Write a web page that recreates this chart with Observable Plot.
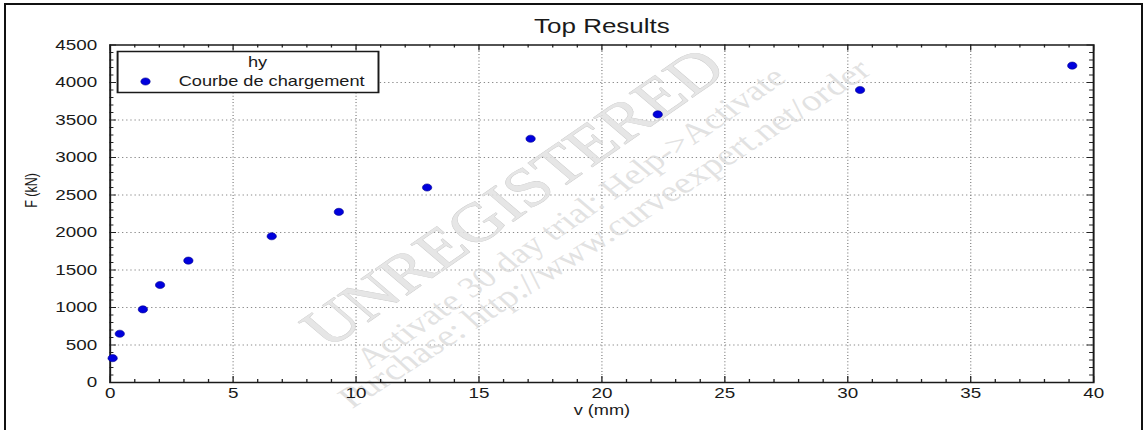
<!DOCTYPE html>
<html>
<head>
<meta charset="utf-8">
<script src="https://cdn.jsdelivr.net/npm/d3@7"></script>
<script src="https://cdn.jsdelivr.net/npm/@observablehq/plot@0.6"></script>
<style>
  html, body { margin: 0; padding: 0; background: #fff; overflow: hidden; }
  #wrap { position: relative; width: 1146px; height: 430px; }
  #border { position: absolute; left: 4px; top: 3px; width: 1135px; height: 500px;
            border-left: 2px solid #111; border-top: 2px solid #111; border-right: 2px solid #111;
            pointer-events: none; }
</style>
</head>
<body>
<div id="wrap"><div id="border"></div></div>
<script>
// ---- data ----
const vValues = [0.1, 0.39, 1.33, 2.03, 3.18, 6.57, 9.30, 12.89, 17.10, 22.27, 30.50, 39.13];
const fValues = [325, 650, 975, 1300, 1625, 1950, 2275, 2600, 3250, 3575, 3900, 4225];
const xTicks = [0, 5, 10, 15, 20, 25, 30, 35, 40];
const yTicks = [0, 500, 1000, 1500, 2000, 2500, 3000, 3500, 4000, 4500];
const xMinor = d3.range(1, 40).filter(d => d % 5 !== 0);
const yMinor = d3.range(100, 4500, 100).filter(d => d % 500 !== 0);
const xGrid = [5, 10, 15, 20, 25, 30, 35];
const yGrid = [500, 1000, 1500, 2000, 2500, 3000, 3500, 4000];
const titleText = ["Top Results"];
const xLabel = ["v (mm)"];
const yLabel = ["F (kN)"];
const legendTitle = ["hy"];
const legendLabel = ["Courbe de chargement"];
const watermarkBig = ["UNREGISTERED"];
const watermarkLine1 = ["Activate 30 day trial: Help->Activate"];
const watermarkLine2 = ["Purchase: http://www.curveexpert.net/order"];

const points = vValues.map((v, i) => ({v, f: fValues[i]}));

// The reference is a horizontally stretched image: draw at a narrower logical
// width and stretch the SVG to the full width.
const W0 = 882, H = 430, WOUT = 1146;
const ML = 84.3, MR = 40.8, MT = 44.5, MB = 48;
const fw = W0 - ML - MR, fh = H - MT - MB;

const blue = "#0000dd";
const sans = "'Liberation Sans', Arial, Helvetica, sans-serif";
const serif = "'Liberation Serif', 'DejaVu Serif', serif";
const wmFill = "#dadada";

const chart = Plot.plot({
  width: W0,
  height: H,
  marginLeft: ML, marginRight: MR, marginTop: MT, marginBottom: MB,
  style: {fontFamily: sans, fontSize: "14.5px", color: "#1a1a1a", background: "white"},
  x: {domain: [0, 40]},
  y: {domain: [0, 4500]},
  marks: [
    // dotted grid
    Plot.ruleX(xGrid, {x: d => d, stroke: "#8a8a8a", strokeWidth: 1, strokeDasharray: "1,2.2"}),
    Plot.ruleY(yGrid, {y: d => d, stroke: "#8a8a8a", strokeWidth: 1, strokeDasharray: "1,2.2"}),
    // watermark
    Plot.text(watermarkBig, {frameAnchor: "middle", dx: -68, dy: -16, rotate: -42,
      fontSize: 55, fontFamily: serif, fill: "#e2e2e2", fillOpacity: 0.85, stroke: "#c8c8c8", strokeWidth: 0.6}),
    Plot.text(watermarkLine1, {frameAnchor: "middle", dx: -24, dy: 4, rotate: -42,
      fontSize: 29, fontFamily: serif, fill: wmFill, fillOpacity: 0.8}),
    Plot.text(watermarkLine2, {frameAnchor: "middle", dx: 2, dy: 20, rotate: -40,
      fontSize: 30, fontFamily: serif, fill: wmFill, fillOpacity: 0.8}),
    // inward ticks: bottom / top
    Plot.tickX(xMinor, {x: d => d, insetTop: fh - 3, stroke: "#222"}),
    Plot.tickX(xTicks, {x: d => d, insetTop: fh - 6, stroke: "#222"}),
    Plot.tickX(xMinor, {x: d => d, insetBottom: fh - 3, stroke: "#222"}),
    Plot.tickX(xTicks, {x: d => d, insetBottom: fh - 6, stroke: "#222"}),
    // inward ticks: left / right
    Plot.tickY(yMinor, {y: d => d, insetRight: fw - 3, stroke: "#222"}),
    Plot.tickY(yTicks, {y: d => d, insetRight: fw - 5, stroke: "#222"}),
    Plot.tickY(yMinor, {y: d => d, insetLeft: fw - 3, stroke: "#222"}),
    Plot.tickY(yTicks, {y: d => d, insetLeft: fw - 5, stroke: "#222"}),
    Plot.frame({stroke: "#1a1a1a", strokeWidth: 1.5}),
    // axes labels
    Plot.axisX({ticks: xTicks, tickSize: 0, tickPadding: 5, tickFormat: d => String(d), label: null}),
    Plot.axisY({ticks: yTicks, tickSize: 0, tickPadding: 10, tickFormat: d => String(d), label: null}),
    Plot.text(xLabel, {frameAnchor: "bottom", dy: 28, lineAnchor: "middle", fontSize: 14}),
    Plot.text(yLabel, {frameAnchor: "left", dx: -60, dy: -6, rotate: -90, lineAnchor: "middle", fontSize: 12.5}),
    Plot.text(titleText, {frameAnchor: "top", dy: -18.5, lineAnchor: "middle", fontSize: 20}),
    // legend
    Plot.frame({insetLeft: 5.7, insetTop: 6.5, insetRight: 550.4, insetBottom: 290,
      fill: "white", stroke: "#1a1a1a", strokeWidth: 1.5}),
    Plot.text(legendTitle, {frameAnchor: "top-left", dx: 106, dy: 17.5, lineAnchor: "middle", fontSize: 14}),
    Plot.dot(legendLabel, {frameAnchor: "top-left", dx: 27.2, dy: 36.5, r: 3.6, fill: blue, stroke: "#00008a", strokeWidth: 0.5}),
    Plot.text(legendLabel, {frameAnchor: "top-left", dx: 52.7, dy: 36.5, textAnchor: "start", lineAnchor: "middle", fontSize: 14}),
    // data
    Plot.dot(points, {x: "v", y: "f", r: 3.6, fill: blue, stroke: "#00008a", strokeWidth: 0.5})
  ]
});

chart.setAttribute("width", WOUT);
chart.setAttribute("height", H);
chart.setAttribute("preserveAspectRatio", "none");
chart.style.width = WOUT + "px";
chart.style.height = H + "px";
chart.style.maxWidth = "none";
chart.style.display = "block";
const wrap = document.getElementById("wrap");
wrap.insertBefore(chart, wrap.firstChild);
</script>
</body>
</html>
